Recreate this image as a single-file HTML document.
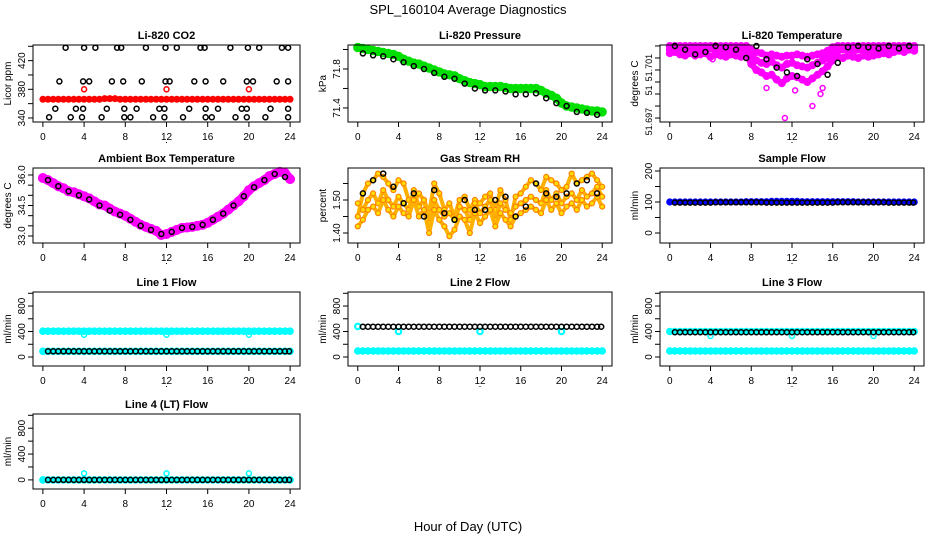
<!DOCTYPE html>
<html><head><meta charset="utf-8"><style>
body{margin:0;background:#fff;}
svg{display:block;font-family:"Liberation Sans",sans-serif;}
</style></head><body>
<svg id="chart" width="936" height="540" xmlns="http://www.w3.org/2000/svg">
<rect width="936" height="540" fill="#fff"/>
<text x="468" y="14" font-size="13" text-anchor="middle">SPL_160104  Average Diagnostics</text>
<text x="468" y="531" font-size="13" text-anchor="middle">Hour of Day (UTC)</text>
</svg>
<script>
const H49=[0,0.5,1,1.5,2,2.5,3,3.5,4,4.5,5,5.5,6,6.5,7,7.5,8,8.5,9,9.5,10,10.5,11,11.5,12,12.5,13,13.5,14,14.5,15,15.5,16,16.5,17,17.5,18,18.5,19,19.5,20,20.5,21,21.5,22,22.5,23,23.5,24];
const H48=[0.5,1,1.5,2,2.5,3,3.5,4,4.5,5,5.5,6,6.5,7,7.5,8,8.5,9,9.5,10,10.5,11,11.5,12,12.5,13,13.5,14,14.5,15,15.5,16,16.5,17,17.5,18,18.5,19,19.5,20,20.5,21,21.5,22,22.5,23,23.5,23.9];
const H24=[0.5,1.5,2.5,3.5,4.5,5.5,6.5,7.5,8.5,9.5,10.5,11.5,12.5,13.5,14.5,15.5,16.5,17.5,18.5,19.5,20.5,21.5,22.5,23.5];
const xTicks=[0,4,8,12,16,20,24];

const co2Red=[366,366,366,366,366,366,366,366,366,366,366,366,367,367,367,366,366,366,366,366,366,366,366,366,366,366,366,366,366,366,366,366,366,366,366,366,366,366,366,366,366,366,366,366,366,366,366,366,366];
const co2RedOutX=[4,12,20];
const co2RedOutY=[380,380,380];
const co2BlackX=[2.2,4,5.1,7.2,7.6,10,11.9,13,15.3,15.7,18.2,19.9,21,23.2,23.8,1.6,3.9,4.5,6.7,7.8,9.6,11.9,12.3,14.7,15.8,17.5,19.8,20.4,22.7,23.8,1.2,3.2,3.9,6.2,7.9,9.1,11.3,11.8,14.2,15.8,17,19.3,19.8,22.1,23.8,0.6,2.7,3.8,5.7,7.9,8.5,10.7,11.8,13.6,15.8,16.4,18.7,19.8,21.6,23.8];
const co2BlackY=[438,438,438,438,438,438,438,438,438,438,438,438,438,438,438,391,391,391,391,391,391,391,391,391,391,391,391,391,391,391,353,353,353,353,353,353,353,353,353,353,353,353,353,353,353,341,341,341,341,341,341,341,341,341,341,341,341,341,341,341];

const presGreen=[72.02,72.01,72.0,71.99,71.98,71.97,71.96,71.95,71.93,71.9,71.88,71.86,71.85,71.83,71.81,71.79,71.77,71.75,71.74,71.73,71.7,71.68,71.66,71.65,71.64,71.62,71.62,71.62,71.62,71.61,71.6,71.6,71.6,71.6,71.6,71.6,71.58,71.55,71.53,71.5,71.45,71.42,71.41,71.4,71.39,71.38,71.37,71.37,71.36];
const presBlack=[71.96,71.94,71.93,71.9,71.87,71.83,71.8,71.76,71.72,71.7,71.65,71.6,71.58,71.58,71.57,71.54,71.54,71.55,71.5,71.45,71.42,71.36,71.35,71.33];

const tempM1=[51.7030,51.7030,51.7030,51.7030,51.7030,51.7030,51.7030,51.7030,51.7030,51.7030,51.7030,51.7030,51.7030,51.7030,51.7030,51.7030,51.7027,51.7025,51.7024,51.7022,51.7023,51.7022,51.7021,51.7022,51.7022,51.7023,51.7022,51.7021,51.7022,51.7023,51.7024,51.7026,51.7029,51.7030,51.7030,51.7030,51.7030,51.7030,51.7030,51.7030,51.7030,51.7030,51.7030,51.7030,51.7030,51.7030,51.7030,51.7030,51.7030];
const tempM2=[51.7027,51.7028,51.7027,51.7026,51.7028,51.7027,51.7026,51.7027,51.7028,51.7026,51.7027,51.7026,51.7027,51.7025,51.7026,51.7027,51.7022,51.7018,51.7016,51.7015,51.7017,51.7014,51.7012,51.7015,51.7016,51.7014,51.7013,51.7012,51.7014,51.7016,51.7018,51.7020,51.7024,51.7026,51.7027,51.7026,51.7025,51.7027,51.7026,51.7025,51.7027,51.7026,51.7028,51.7027,51.7028,51.7029,51.7028,51.7029,51.7028];
const tempM3=[51.7024,51.7025,51.7023,51.7022,51.7024,51.7022,51.7023,51.7024,51.7021,51.7023,51.7022,51.7021,51.7023,51.7022,51.7021,51.7023,51.7015,51.7010,51.7008,51.7005,51.7006,51.7002,51.6999,51.7003,51.7005,51.7004,51.7002,51.7000,51.7003,51.7006,51.7009,51.7013,51.7018,51.7021,51.7020,51.7022,51.7021,51.7020,51.7022,51.7021,51.7022,51.7023,51.7024,51.7023,51.7025,51.7026,51.7025,51.7027,51.7026];
const tempOutX=[9.5,11.3,12.3,14,14.8,15,1.5,4.2];
const tempOutY=[51.6995,51.6970,51.6993,51.6980,51.6990,51.6995,51.7022,51.7019];
const tempBlack=[51.7030,51.7027,51.7023,51.7025,51.7030,51.7029,51.7027,51.7020,51.7030,51.7019,51.7012,51.7008,51.7005,51.7019,51.7015,51.7006,51.7016,51.7029,51.7030,51.7029,51.7028,51.7030,51.7028,51.7030];

const ambMag=[35.85,35.75,35.6,35.45,35.35,35.2,35.15,35.05,34.95,34.85,34.7,34.55,34.5,34.35,34.2,34.1,34.0,33.85,33.7,33.55,33.45,33.35,33.25,33.05,33.1,33.2,33.3,33.4,33.42,33.45,33.5,33.55,33.65,33.8,33.95,34.1,34.3,34.5,34.7,34.95,35.25,35.45,35.6,35.75,35.95,36.05,36.15,36.1,35.8];
const ambBlack=[35.75,35.45,35.2,35.0,34.8,34.5,34.25,34.05,33.8,33.5,33.3,33.1,33.2,33.4,33.45,33.55,33.8,34.1,34.5,34.95,35.4,35.75,36.05,35.9];

const rhA=[1.45,1.52,1.55,1.56,1.58,1.57,1.55,1.53,1.56,1.55,1.50,1.49,1.52,1.50,1.46,1.55,1.52,1.47,1.49,1.45,1.50,1.51,1.47,1.50,1.49,1.51,1.52,1.47,1.53,1.50,1.44,1.51,1.52,1.54,1.56,1.55,1.53,1.57,1.56,1.55,1.53,1.54,1.58,1.55,1.56,1.57,1.58,1.56,1.54];
const rhB=[1.49,1.47,1.50,1.52,1.49,1.53,1.50,1.48,1.51,1.49,1.47,1.53,1.48,1.50,1.43,1.50,1.47,1.45,1.46,1.44,1.48,1.47,1.44,1.49,1.46,1.48,1.50,1.44,1.49,1.47,1.46,1.48,1.49,1.50,1.51,1.50,1.49,1.53,1.50,1.52,1.49,1.51,1.52,1.50,1.53,1.51,1.52,1.54,1.51];
const rhC=[1.42,1.44,1.47,1.48,1.46,1.50,1.47,1.45,1.48,1.46,1.45,1.50,1.45,1.47,1.40,1.47,1.44,1.42,1.39,1.41,1.45,1.44,1.40,1.46,1.43,1.45,1.47,1.42,1.46,1.44,1.42,1.45,1.46,1.47,1.48,1.47,1.46,1.50,1.47,1.49,1.46,1.48,1.49,1.47,1.50,1.48,1.49,1.51,1.48];
const rhBlack=[1.52,1.56,1.58,1.54,1.49,1.52,1.45,1.53,1.46,1.44,1.50,1.47,1.47,1.50,1.51,1.45,1.48,1.55,1.52,1.51,1.52,1.55,1.56,1.52];

const sampleBlue=[100,100,100,100,100,100,100,100,100,100,100,100,100,100,100,101,101,101,101,101,102,102,102,102,102,102,101,101,101,101,101,101,101,101,101,101,101,100,100,100,100,100,100,100,100,100,100,100,100];
const sampleBlack=[98,98,98,98,98,98,98,98,99,99,99,99,99,99,99,99,99,99,98,98,98,98,98,98];

const l1High=[405,405,405,405,405,405,405,405,405,405,405,405,405,405,405,405,405,405,405,405,405,405,405,405,405,405,405,405,405,405,405,405,405,405,405,405,405,405,405,405,405,405,405,405,405,405,405,405,405];
const l1Low=[90,90,90,90,90,90,90,90,90,90,90,90,90,90,90,90,90,90,90,90,90,90,90,90,90,90,90,90,90,90,90,90,90,90,90,90,90,90,90,90,90,90,90,90,90,90,90,90,90];
const l1Black=[90,90,90,90,90,90,90,90,90,90,90,90,90,90,90,90,90,90,90,90,90,90,90,90,90,90,90,90,90,90,90,90,90,90,90,90,90,90,90,90,90,90,90,90,90,90,90,90];
const l1OutY=[350,350,350];
const l2Low=[95,95,95,95,95,95,95,95,95,95,95,95,95,95,95,95,95,95,95,95,95,95,95,95,95,95,95,95,95,95,95,95,95,95,95,95,95,95,95,95,95,95,95,95,95,95,95,95,95];
const l2Black=[475,475,475,475,475,475,475,475,475,475,475,475,475,475,475,475,475,475,475,475,475,475,475,475,475,475,475,475,475,475,475,475,475,475,475,475,475,475,475,475,475,475,475,475,475,475,475,475];
const l2OutX=[0,4,12,20];
const l2OutY=[480,400,400,400];
const l3High=[400,400,400,400,400,400,400,400,400,400,400,400,400,400,400,400,400,400,400,400,400,400,400,400,400,400,400,400,400,400,400,400,400,400,400,400,400,400,400,400,400,400,400,400,400,400,400,400,400];
const l3Low=[95,95,95,95,95,95,95,95,95,95,95,95,95,95,95,95,95,95,95,95,95,95,95,95,95,95,95,95,95,95,95,95,95,95,95,95,95,95,95,95,95,95,95,95,95,95,95,95,95];
const l3Black=[390,390,390,390,390,390,390,390,390,390,390,390,390,390,390,390,390,390,390,390,390,390,390,390,390,390,390,390,390,390,390,390,390,390,390,390,390,390,390,390,390,390,390,390,390,390,390,390];
const l3OutY=[330,330,330];
const l4Cyan=[0,0,0,0,0,0,0,0,0,0,0,0,0,0,0,0,0,0,0,0,0,0,0,0,0,0,0,0,0,0,0,0,0,0,0,0,0,0,0,0,0,0,0,0,0,0,0,0,0];
const l4Black=[0,0,0,0,0,0,0,0,0,0,0,0,0,0,0,0,0,0,0,0,0,0,0,0,0,0,0,0,0,0,0,0,0,0,0,0,0,0,0,0,0,0,0,0,0,0,0,0];
const l4OutY=[100,100,100];
const outX3=[4,12,20];

const svg=document.getElementById('chart');
const NS='http://www.w3.org/2000/svg';
function mk(tag,attrs,parent){const e=document.createElementNS(NS,tag);for(const k in attrs)e.setAttribute(k,attrs[k]);(parent||svg).appendChild(e);return e;}

const colL=[33,348,660], colR=[300,612,924];
const rowT=[45,168,292,414], rowB=[122,243,366,489];

function panel(c){
  const L=colL[c.col],R=colR[c.col],T=rowT[c.row],B=rowB[c.row];
  const g=mk('g',{});
  
  
  const sx=v=>L+(v+0.96)/25.92*(R-L);
  const sy=v=>B-(v-c.y0)/(c.y1-c.y0)*(B-T);
  c.series.forEach(s=>{
    const sg=mk('g',{},g);
    
    
    if(s.band){
      let pts='';
      for(let i=0;i<s.y.length;i++)pts+=sx(s.x[i]).toFixed(1)+','+sy(s.y[i]).toFixed(1)+' ';
      const pl=mk('polyline',{points:pts,fill:'none',stroke:s.bandColor||s.color,'stroke-width':s.band,'stroke-linejoin':'round','stroke-linecap':'round'},sg);
      
      
    }
    for(let i=0;i<s.y.length;i++){
      const ci=mk('circle',{cx:sx(s.x[i]).toFixed(1),cy:sy(s.y[i]).toFixed(1),r:s.r||2.5,fill:s.fill||'none',stroke:s.color,'stroke-width':s.sw||1.5},sg);
      
      
    }
  });
  const box=mk('rect',{x:L,y:T,width:R-L,height:B-T,fill:'none',stroke:'#000','stroke-width':1},g);
  
  
  const t=mk('text',{x:(L+R)/2,y:T-6,'font-size':11,'font-weight':'bold','text-anchor':'middle'},g);
  t.textContent=c.title;
  
  
  const xa=mk('g',{},g);
  
  
  xTicks.forEach(v=>{
    mk('line',{x1:sx(v),x2:sx(v),y1:B,y2:B+5,stroke:'#000'},xa);
    const tx=mk('text',{x:sx(v),y:B+18,'font-size':10,'text-anchor':'middle'},xa);tx.textContent=v;
  });
  mk('rect',{x:sx(12)-0.5,y:B+20,width:1,height:1,fill:'#000'},xa);
  const ya=mk('g',{},g);
  
  
  c.yticks.forEach(v=>{mk('line',{x1:L-5,x2:L,y1:sy(v),y2:sy(v),stroke:'#000'},ya);});
  c.ylabels.forEach((v,i)=>{
    const y=sy(c.ylabelPos[i]);
    const tx=mk('text',{x:L-8,y:y,'font-size':c.ylabelSize||10,'text-anchor':'middle',transform:'rotate(-90 '+(L-8)+' '+y+')'},ya);
    tx.textContent=v;
  });
  const yt=mk('text',{x:L-22,y:(T+B)/2,'font-size':10,'text-anchor':'middle',transform:'rotate(-90 '+(L-22)+' '+((T+B)/2)+')'},g);
  yt.textContent=c.ytitle;
  
  
}

const flowTicks=[0,200,400,600,800,1000], flowLab=['0','400','800'], flowLabPos=[0,400,800];

panel({name:'co2',title:'Li-820 CO2',col:0,row:0,y0:334.4,y1:441.8,ytitle:'Licor ppm',
  yticks:[340,360,380,400,420,440],ylabels:['340','380','420'],ylabelPos:[340,380,420],
  series:[{name:'co2-raw',x:H49,y:co2Red,color:'#ff0000',r:2.5,sw:2,band:5},
          {name:'co2-raw-outliers',x:co2RedOutX,y:co2RedOutY,color:'#ff0000'},
          {name:'co2-avg',x:co2BlackX,y:co2BlackY,color:'#000'}]});
panel({name:'pressure',title:'Li-820 Pressure',col:1,row:0,y0:71.256,y1:72.046,ytitle:'kPa',
  yticks:[71.4,71.6,71.8,72.0],ylabels:['71.4','71.8'],ylabelPos:[71.4,71.8],
  series:[{name:'pressure-raw',x:H49,y:presGreen,color:'#00e000',r:3.2,sw:3,band:8},
          {name:'pressure-avg',x:H24,y:presBlack,color:'#000'}]});
panel({name:'li820-temp',title:'Li-820 Temperature',col:2,row:0,y0:51.69667,y1:51.70308,ytitle:'degrees C',ylabelSize:9,
  yticks:[51.697,51.698,51.699,51.700,51.701,51.702,51.703],ylabels:['51.697','51','51.701'],ylabelPos:[51.6967,51.6993,51.7012],
  series:[{name:'temp-raw-1',x:H49,y:tempM1,color:'#ff00ff',r:3,sw:2,band:6},
          {name:'temp-raw-2',x:H49,y:tempM2,color:'#ff00ff',r:3,sw:2,band:6},
          {name:'temp-raw-3',x:H49,y:tempM3,color:'#ff00ff',r:3,sw:2,band:6},
          {name:'temp-raw-outliers',x:tempOutX,y:tempOutY,color:'#ff00ff'},
          {name:'temp-avg',x:H24,y:tempBlack,color:'#000'}]});
panel({name:'ambient-temp',title:'Ambient Box Temperature',col:0,row:1,y0:32.656,y1:36.344,ytitle:'degrees C',
  yticks:[33,33.5,34,34.5,35,35.5,36],ylabels:['33.0','34.5','36.0'],ylabelPos:[33,34.5,36],
  series:[{name:'ambient-raw',x:H49,y:ambMag,color:'#ff00ff',r:3.5,sw:3,band:9},
          {name:'ambient-avg',x:H24,y:ambBlack,color:'#000'}]});
panel({name:'rh',title:'Gas Stream RH',col:1,row:1,y0:1.3697,y1:1.597,ytitle:'percent',
  yticks:[1.40,1.45,1.50,1.55],ylabels:['1.40','1.50'],ylabelPos:[1.40,1.50],
  series:[{name:'rh-raw-1',x:H49,y:rhA,color:'#ff8000',fill:'#ffdd00',r:2.5,sw:1.2,band:4,bandColor:'#ffb000'},
          {name:'rh-raw-2',x:H49,y:rhB,color:'#ff8000',fill:'#ffdd00',r:2.5,sw:1.2,band:4,bandColor:'#ffb000'},
          {name:'rh-raw-3',x:H49,y:rhC,color:'#ff8000',fill:'#ffdd00',r:2.5,sw:1.2,band:4,bandColor:'#ffb000'},
          {name:'rh-avg',x:H24,y:rhBlack,color:'#000'}]});
panel({name:'sample-flow',title:'Sample Flow',col:2,row:1,y0:-32.3,y1:209.7,ytitle:'ml/min',
  yticks:[0,50,100,150,200],ylabels:['0','100','200'],ylabelPos:[0,100,200],
  series:[{name:'sample-raw',x:H49,y:sampleBlue,color:'#0000ff',r:2.6,sw:2,band:5},
          {name:'sample-avg',x:H48,y:sampleBlack.concat(sampleBlack),color:'#000'}]});
panel({name:'line1-flow',title:'Line 1 Flow',col:0,row:2,y0:-141,y1:1020,ytitle:'ml/min',
  yticks:flowTicks,ylabels:flowLab,ylabelPos:flowLabPos,
  series:[{name:'line1-high',x:H49,y:l1High,color:'#00ffff',r:2.7,sw:2.2,band:6},
          {name:'line1-low',x:H49,y:l1Low,color:'#00ffff',r:2.7,sw:2.2,band:6},
          {name:'line1-outliers',x:outX3,y:l1OutY,color:'#00ffff'},
          {name:'line1-avg',x:H48,y:l1Black,color:'#000'}]});
panel({name:'line2-flow',title:'Line 2 Flow',col:1,row:2,y0:-141,y1:1020,ytitle:'ml/min',
  yticks:flowTicks,ylabels:flowLab,ylabelPos:flowLabPos,
  series:[{name:'line2-low',x:H49,y:l2Low,color:'#00ffff',r:2.7,sw:2.2,band:6},
          {name:'line2-outliers',x:l2OutX,y:l2OutY,color:'#00ffff',r:2.7,sw:2.2},
          {name:'line2-avg',x:H48,y:l2Black,color:'#000'}]});
panel({name:'line3-flow',title:'Line 3 Flow',col:2,row:2,y0:-141,y1:1020,ytitle:'ml/min',
  yticks:flowTicks,ylabels:flowLab,ylabelPos:flowLabPos,
  series:[{name:'line3-high',x:H49,y:l3High,color:'#00ffff',r:2.7,sw:2.2,band:6},
          {name:'line3-low',x:H49,y:l3Low,color:'#00ffff',r:2.7,sw:2.2,band:6},
          {name:'line3-outliers',x:outX3,y:l3OutY,color:'#00ffff'},
          {name:'line3-avg',x:H48,y:l3Black,color:'#000'}]});
panel({name:'line4-flow',title:'Line 4 (LT) Flow',col:0,row:3,y0:-141,y1:1020,ytitle:'ml/min',
  yticks:flowTicks,ylabels:flowLab,ylabelPos:flowLabPos,
  series:[{name:'line4-raw',x:H49,y:l4Cyan,color:'#00ffff',r:2.7,sw:2.2,band:6},
          {name:'line4-outliers',x:outX3,y:l4OutY,color:'#00ffff'},
          {name:'line4-avg',x:H48,y:l4Black,color:'#000'}]});
</script>
</body></html>
